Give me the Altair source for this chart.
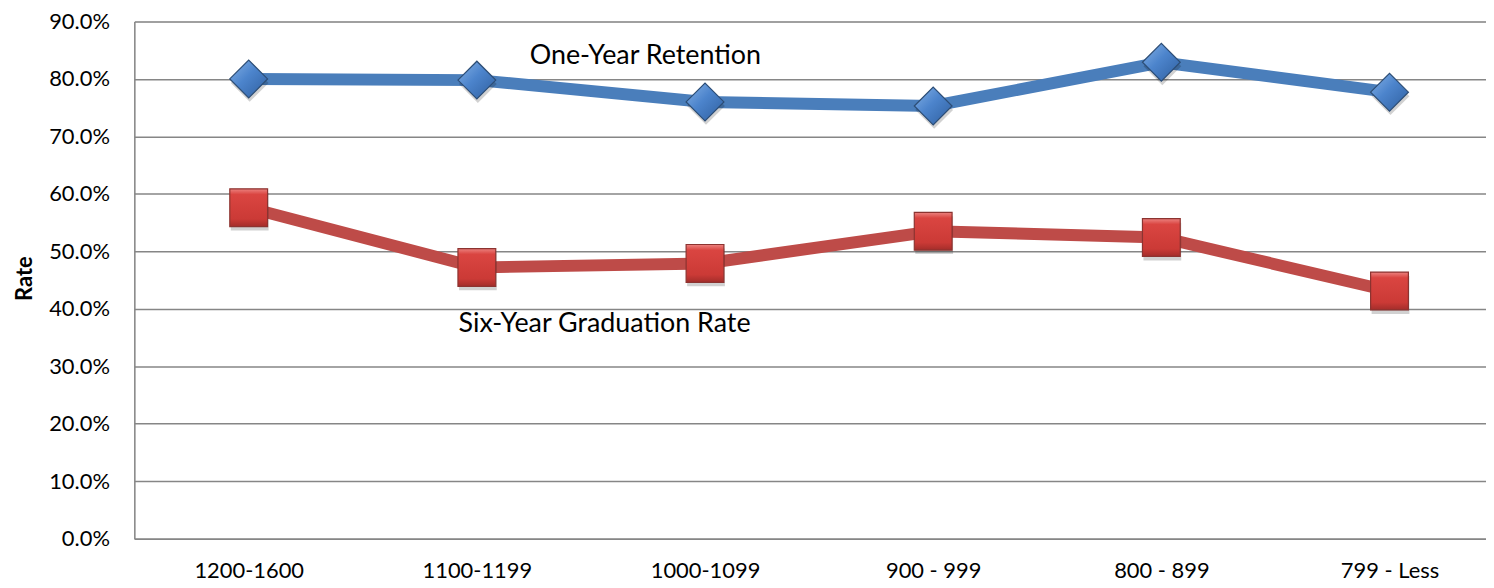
import json
import altair as alt
import pandas as pd

categories = ["1200-1600", "1100-1199", "1000-1099", "900 - 999", "800 - 899", "799 - Less"]
retention = [0.800, 0.798, 0.760, 0.753, 0.829, 0.777]
graduation = [0.576, 0.472, 0.479, 0.535, 0.524, 0.431]
series_names = ["One-Year Retention", "Six-Year Graduation Rate"]
series_colors = ["#4A7EBB", "#BE4B48"]

rows = []
for i, (c, v) in enumerate(zip(categories, retention)):
    rows.append({"idx": i, "category": c, "series": series_names[0], "value": v})
for i, (c, v) in enumerate(zip(categories, graduation)):
    rows.append({"idx": i, "category": c, "series": series_names[1], "value": v})
df = pd.DataFrame(rows)

labels_df = pd.DataFrame({
    "label": ["One-Year Retention", "Six-Year Graduation Rate"],
    "idx": [2, 2],
    "value": [0.839, 0.373],
    "series": series_names,
})

FONT = "Lato"

x_enc = alt.X(
    "idx:Q",
    scale=alt.Scale(domain=[-0.5013, 5.4229], nice=False, zero=False),
    axis=alt.Axis(title=None, values=list(range(len(categories))),
                  labelExpr=json.dumps(categories) + "[datum.value]",
                  labelAngle=0, ticks=False, grid=False, labelFontSize=22, labelFlush=False,
                  labelOverlap=False, labelPadding=22, labelColor="#000000", labelFont=FONT,
                  domainColor="#868686", domainWidth=1.5),
)
y_enc = alt.Y(
    "value:Q",
    scale=alt.Scale(domain=[0, 0.9], nice=False),
    axis=alt.Axis(title="Rate", format=".1%", values=[i / 10 for i in range(10)], ticks=False,
                  labelFontSize=22, labelPadding=25, labelColor="#000000", labelFont=FONT,
                  gridColor="#868686", gridWidth=1.5, domainColor="#868686", domainWidth=1.5,
                  titleFontSize=22, titleFont=FONT, titleFontWeight="bold", titleColor="#000000",
                  titleX=-103, titleY=258, titleAngle=270, titleBaseline="alphabetic"),
)
color_enc = alt.Color("series:N", scale=alt.Scale(domain=series_names, range=series_colors), legend=None)

lines = alt.Chart(df).mark_line(strokeWidth=12).encode(x=x_enc, y=y_enc, color=color_enc)

ret_df = df[df.series == series_names[0]]
grad_df = df[df.series == series_names[1]]

shadow_ret = alt.Chart(ret_df).mark_point(shape="diamond", filled=True, size=1444, color="#000000",
                                          opacity=0.18, xOffset=1, yOffset=4).encode(x=x_enc, y=y_enc)
shadow_grad = alt.Chart(grad_df).mark_point(shape="square", filled=True, size=1444, color="#000000",
                                            opacity=0.18, xOffset=1, yOffset=4).encode(x=x_enc, y=y_enc)

diamonds = alt.Chart(ret_df).mark_point(
    shape="diamond", size=1444, opacity=1, strokeWidth=1.2, stroke="#2C4D75",
    fill=alt.Gradient(gradient="linear", x1=0, y1=0, x2=1, y2=1,
                      stops=[alt.GradientStop(offset=0, color="#86B2E6"),
                             alt.GradientStop(offset=0.45, color="#4C84CC"),
                             alt.GradientStop(offset=1, color="#2F5F9F")]),
).encode(x=x_enc, y=y_enc)
squares = alt.Chart(grad_df).mark_point(
    shape="square", size=1444, opacity=1, strokeWidth=1.2, stroke="#8C3330",
    fill=alt.Gradient(gradient="linear", x1=0, y1=0, x2=0, y2=1,
                      stops=[alt.GradientStop(offset=0, color="#EC8380"),
                             alt.GradientStop(offset=0.15, color="#DA4541"),
                             alt.GradientStop(offset=0.8, color="#CB3A36"),
                             alt.GradientStop(offset=1, color="#A32D2A")]),
).encode(x=x_enc, y=y_enc)

ret_label = alt.Chart(labels_df[labels_df.series == series_names[0]]).mark_text(
    fontSize=27, font=FONT, color="#000000", dx=-60
).encode(x=x_enc, y=y_enc, text="label:N")
grad_label = alt.Chart(labels_df[labels_df.series == series_names[1]]).mark_text(
    fontSize=27, font=FONT, color="#000000", dx=-101
).encode(x=x_enc, y=y_enc, text="label:N")

chart = alt.layer(lines, shadow_ret, shadow_grad, diamonds, squares, ret_label, grad_label).properties(
    width=1359, height=520,
    autosize=alt.AutoSizeParams(type="none"),
    padding={"left": 127, "top": 12, "right": 0, "bottom": 44},
).configure_view(stroke=None).configure(background="#ffffff")

chart.save("out.html", embed_options={"renderer": "svg", "actions": False})
